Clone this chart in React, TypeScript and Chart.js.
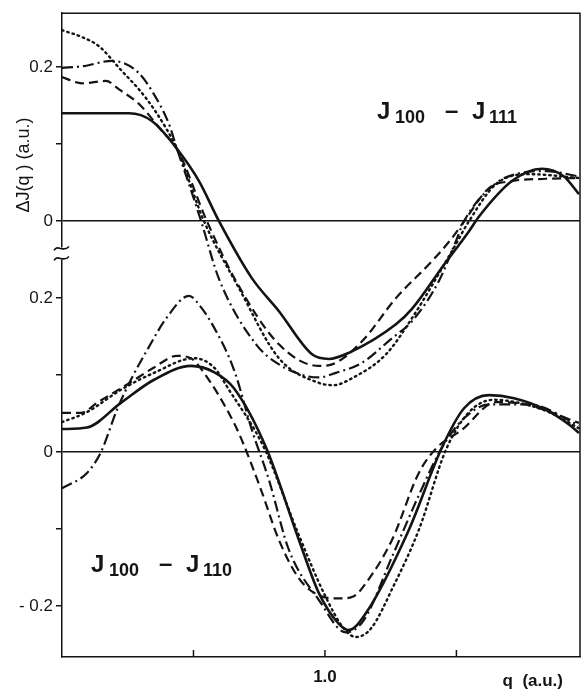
import React, { useEffect, useRef } from 'react';
import { Chart, registerables } from 'chart.js';
Chart.register(...registerables);

// ---- axis / tick definitions ----
const UPPER_OFFSET = 0.3; // upper panel zero sits at this value of the shared axis
const X_MIN = 0;
const X_MAX = 1.97;
const Y_MIN = -0.266;
const Y_MAX = 0.57;
const BREAK_AT = 0.258;

const xTickValues = [0.5, 1.0, 1.5];
const xTickLabels = ['', '1.0', ''];
const yTickValues = [-0.2, -0.1, 0, 0.1, 0.2, 0.3, 0.4, 0.5];
const yTickLabels = ['- 0.2', '', '0', '', '0.2', '0', '', '0.2'];
const zeroLineValues = [0, 0.3];

// ---- J100 - J111 (upper panel), [q, dJ] ----
const upperSolid = [
  [0, 0.14], [0.141, 0.14], [0.255, 0.14], [0.342, 0.13], [0.437, 0.094], [0.521, 0.052],
  [0.597, 0.0], [0.722, -0.074], [0.825, -0.117], [0.951, -0.173], [1.015, -0.179],
  [1.091, -0.171], [1.27, -0.134], [1.331, -0.114], [1.452, -0.057], [1.548, -0.013],
  [1.586, 0.006], [1.711, 0.052], [1.825, 0.068], [1.909, 0.058], [1.966, 0.035],
];
const upperDashed = [
  [0, 0.187], [0.076, 0.179], [0.167, 0.182], [0.217, 0.171], [0.293, 0.152], [0.38, 0.117],
  [0.437, 0.094], [0.551, 0.0], [0.662, -0.078], [0.825, -0.16], [0.977, -0.188],
  [1.027, -0.186], [1.141, -0.156], [1.27, -0.1], [1.407, -0.052], [1.483, -0.022],
  [1.536, 0.003], [1.624, 0.043], [1.711, 0.052], [1.84, 0.055], [1.966, 0.056],
];
const upperDotted = [
  [0, 0.248], [0.076, 0.239], [0.141, 0.227], [0.217, 0.199], [0.319, 0.16], [0.395, 0.121],
  [0.437, 0.094], [0.54, 0.0], [0.673, -0.087], [0.825, -0.178],
  [0.977, -0.21], [1.034, -0.213], [1.103, -0.204], [1.232, -0.173], [1.331, -0.126],
  [1.483, -0.039], [1.548, 0.0], [1.65, 0.048], [1.776, 0.061], [1.966, 0.056],
];
const upperDashDot = [
  [0, 0.199], [0.076, 0.201], [0.19, 0.208], [0.236, 0.205], [0.293, 0.192], [0.342, 0.169],
  [0.407, 0.126], [0.437, 0.094], [0.483, 0.048], [0.529, 0.0], [0.597, -0.075],
  [0.738, -0.16], [0.825, -0.186], [0.928, -0.201], [0.977, -0.203], [1.042, -0.197],
  [1.141, -0.184], [1.255, -0.152], [1.331, -0.13], [1.433, -0.078], [1.498, -0.026],
  [1.529, 0.0], [1.65, 0.049], [1.738, 0.062], [1.84, 0.065], [1.966, 0.058],
];

// ---- J100 - J110 (lower panel), [q, dJ] ----
const lowerSolid = [
  [0, 0.03], [0.095, 0.032], [0.224, 0.064], [0.35, 0.094], [0.49, 0.112], [0.578, 0.104],
  [0.654, 0.083], [0.776, 0.006], [0.901, -0.114], [0.977, -0.183], [1.053, -0.223],
  [1.091, -0.231], [1.156, -0.209], [1.319, -0.101], [1.445, 0.006], [1.529, 0.057],
  [1.624, 0.074], [1.719, 0.07], [1.84, 0.055], [1.928, 0.036], [1.966, 0.025],
];
const lowerDashed = [
  [0, 0.051], [0.072, 0.051], [0.133, 0.064], [0.262, 0.091], [0.35, 0.11], [0.437, 0.125],
  [0.49, 0.122], [0.54, 0.103], [0.654, 0.038], [0.692, 0.009], [0.757, -0.049],
  [0.825, -0.114], [0.901, -0.164], [0.977, -0.186], [1.053, -0.19], [1.11, -0.187],
  [1.156, -0.17], [1.255, -0.114], [1.357, -0.027], [1.426, 0.006], [1.521, 0.029],
  [1.65, 0.065], [1.776, 0.061], [1.966, 0.038],
];
const lowerDotted = [
  [0, 0.039], [0.095, 0.052], [0.224, 0.081], [0.35, 0.103], [0.502, 0.122], [0.578, 0.11],
  [0.635, 0.081], [0.768, 0.006], [0.901, -0.108], [1.0, -0.186], [1.072, -0.229],
  [1.118, -0.24], [1.175, -0.229], [1.262, -0.173], [1.357, -0.101], [1.46, 0.003],
  [1.548, 0.052], [1.643, 0.068], [1.738, 0.064], [1.852, 0.052], [1.966, 0.031],
];
const lowerDashDot = [
  [0, -0.047], [0.095, -0.027], [0.148, 0.0], [0.209, 0.055], [0.262, 0.094],
  [0.323, 0.132], [0.399, 0.175], [0.483, 0.203], [0.529, 0.188], [0.578, 0.162],
  [0.654, 0.107], [0.722, 0.029], [0.787, -0.036], [0.863, -0.127], [0.977, -0.192],
  [1.08, -0.234], [1.148, -0.218], [1.255, -0.136], [1.357, -0.056], [1.445, 0.006],
  [1.529, 0.044], [1.624, 0.062], [1.776, 0.062], [1.966, 0.035],
];

const INK = '#141414';
const FONT = "'Liberation Sans', Arial, sans-serif";

const styles: Record<string, { dash: number[]; width: number }> = {
  solid: { dash: [], width: 2.6 },
  dashed: { dash: [9, 5], width: 2.2 },
  dotted: { dash: [1.5, 4], width: 2.4 },
  dashdot: { dash: [11, 4, 2, 4], width: 2.2 },
};

function makeDataset(label: string, pts: number[][], offset: number, style: string) {
  const s = styles[style];
  return {
    label,
    data: pts.map(([q, v]) => ({ x: q, y: v + offset })),
    borderColor: INK,
    borderWidth: s.width,
    borderDash: s.dash,
    borderCapStyle: style === 'dotted' ? 'round' : 'butt',
    pointRadius: 0,
    fill: false,
    cubicInterpolationMode: 'monotone',
  };
}

const decorPlugin = {
  id: 'decor',
  afterDraw(chart: any) {
    const ctx = chart.ctx;
    const { left, right, top, bottom } = chart.chartArea;
    const xs = chart.scales.x;
    const ys = chart.scales.y;
    ctx.save();
    ctx.strokeStyle = INK;
    ctx.fillStyle = INK;
    ctx.lineWidth = 1.5;
    // top and right frame
    ctx.beginPath();
    ctx.moveTo(left, top);
    ctx.lineTo(right, top);
    ctx.lineTo(right, bottom);
    ctx.stroke();
    // inward x ticks
    xTickValues.forEach((v) => {
      const px = xs.getPixelForValue(v);
      ctx.beginPath();
      ctx.moveTo(px, bottom);
      ctx.lineTo(px, bottom - 7);
      ctx.stroke();
    });
    // axis break
    const yb = ys.getPixelForValue(BREAK_AT);
    ctx.fillStyle = '#fff';
    ctx.fillRect(left - 3, yb - 6, 6, 12);
    ctx.fillStyle = INK;
    ctx.lineWidth = 1.6;
    [-5, 5].forEach((dy) => {
      const cy = yb + dy;
      ctx.beginPath();
      ctx.moveTo(left - 8, cy + 2);
      ctx.bezierCurveTo(left - 4, cy - 5, left + 1, cy + 5, left + 7, cy - 2);
      ctx.stroke();
    });
    // y title
    ctx.save();
    ctx.translate(left - 38, ys.getPixelForValue(0.373));
    ctx.rotate(-Math.PI / 2);
    ctx.font = `18px ${FONT}`;
    ctx.textAlign = 'center';
    ctx.textBaseline = 'middle';
    ctx.fillText('\u0394J(q ) (a.u.)', 0, 0);
    ctx.restore();
    // x title
    ctx.font = `bold 17px ${FONT}`;
    ctx.textAlign = 'right';
    ctx.textBaseline = 'alphabetic';
    ctx.fillText('q  (a.u.)', 563, 686);
    // panel labels
    const drawLabel = (x: number, y: number, sub: string) => {
      ctx.textAlign = 'left';
      ctx.textBaseline = 'alphabetic';
      ctx.font = `bold 24px ${FONT}`;
      ctx.fillText('J', x, y);
      ctx.font = `bold 18px ${FONT}`;
      ctx.fillText('100', x + 18, y + 4);
      ctx.font = `bold 24px ${FONT}`;
      ctx.fillText('\u2013', x + 68, y - 1);
      ctx.fillText('J', x + 95, y);
      ctx.font = `bold 18px ${FONT}`;
      ctx.fillText(sub, x + 112, y + 4);
    };
    drawLabel(xs.getPixelForValue(1.198), ys.getPixelForValue(0.4325), '111');
    drawLabel(xs.getPixelForValue(0.11), ys.getPixelForValue(-0.155), '110');
    ctx.restore();
  },
};

export default function App() {
  const ref = useRef<HTMLCanvasElement | null>(null);
  useEffect(() => {
    if (!ref.current) return;
    const chart = new Chart(ref.current, {
      type: 'line',
      data: {
        datasets: [
          makeDataset('J100-J111 solid', upperSolid, UPPER_OFFSET, 'solid'),
          makeDataset('J100-J111 dashed', upperDashed, UPPER_OFFSET, 'dashed'),
          makeDataset('J100-J111 dotted', upperDotted, UPPER_OFFSET, 'dotted'),
          makeDataset('J100-J111 dash-dot', upperDashDot, UPPER_OFFSET, 'dashdot'),
          makeDataset('J100-J110 solid', lowerSolid, 0, 'solid'),
          makeDataset('J100-J110 dashed', lowerDashed, 0, 'dashed'),
          makeDataset('J100-J110 dotted', lowerDotted, 0, 'dotted'),
          makeDataset('J100-J110 dash-dot', lowerDashDot, 0, 'dashdot'),
        ] as any,
      },
      options: {
        animation: false,
        responsive: true,
        maintainAspectRatio: false,
        layout: { padding: { top: 13, right: 4, left: 0, bottom: 0 } },
        plugins: { legend: { display: false }, tooltip: { enabled: false }, title: { display: false } },
        scales: {
          x: {
            type: 'linear',
            min: X_MIN,
            max: X_MAX,
            afterBuildTicks: (scale: any) => {
              scale.ticks = xTickValues.map((v) => ({ value: v }));
            },
            afterFit: (scale: any) => {
              scale.height = 35;
            },
            ticks: {
              autoSkip: false,
              maxRotation: 0,
              padding: 2,
              color: INK,
              font: { family: FONT, size: 17, weight: 'bold' },
              callback: (_v: any, i: number) => xTickLabels[i],
            },
            grid: { display: false },
            border: { display: true, color: INK, width: 1.5 },
          },
          y: {
            type: 'linear',
            min: Y_MIN,
            max: Y_MAX,
            afterBuildTicks: (scale: any) => {
              scale.ticks = yTickValues.map((v) => ({ value: v }));
            },
            afterFit: (scale: any) => {
              scale.width = 62;
            },
            ticks: {
              autoSkip: false,
              padding: 3,
              color: INK,
              font: { family: FONT, size: 17 },
              callback: (_v: any, i: number) => yTickLabels[i],
            },
            grid: {
              display: true,
              drawOnChartArea: true,
              drawTicks: true,
              tickLength: 6,
              tickColor: INK,
              lineWidth: 1.5,
              color: (c: any) =>
                c.tick && zeroLineValues.some((z) => Math.abs(z - c.tick.value) < 1e-9) ? INK : 'rgba(0,0,0,0)',
            },
            border: { display: true, color: INK, width: 1.5 },
          },
        },
      },
      plugins: [decorPlugin],
    });
    return () => chart.destroy();
  }, []);
  return (
    <div style={{ position: 'absolute', left: 0, top: 0, width: 584, height: 692, background: '#fff' }}>
      <canvas ref={ref} />
    </div>
  );
}
